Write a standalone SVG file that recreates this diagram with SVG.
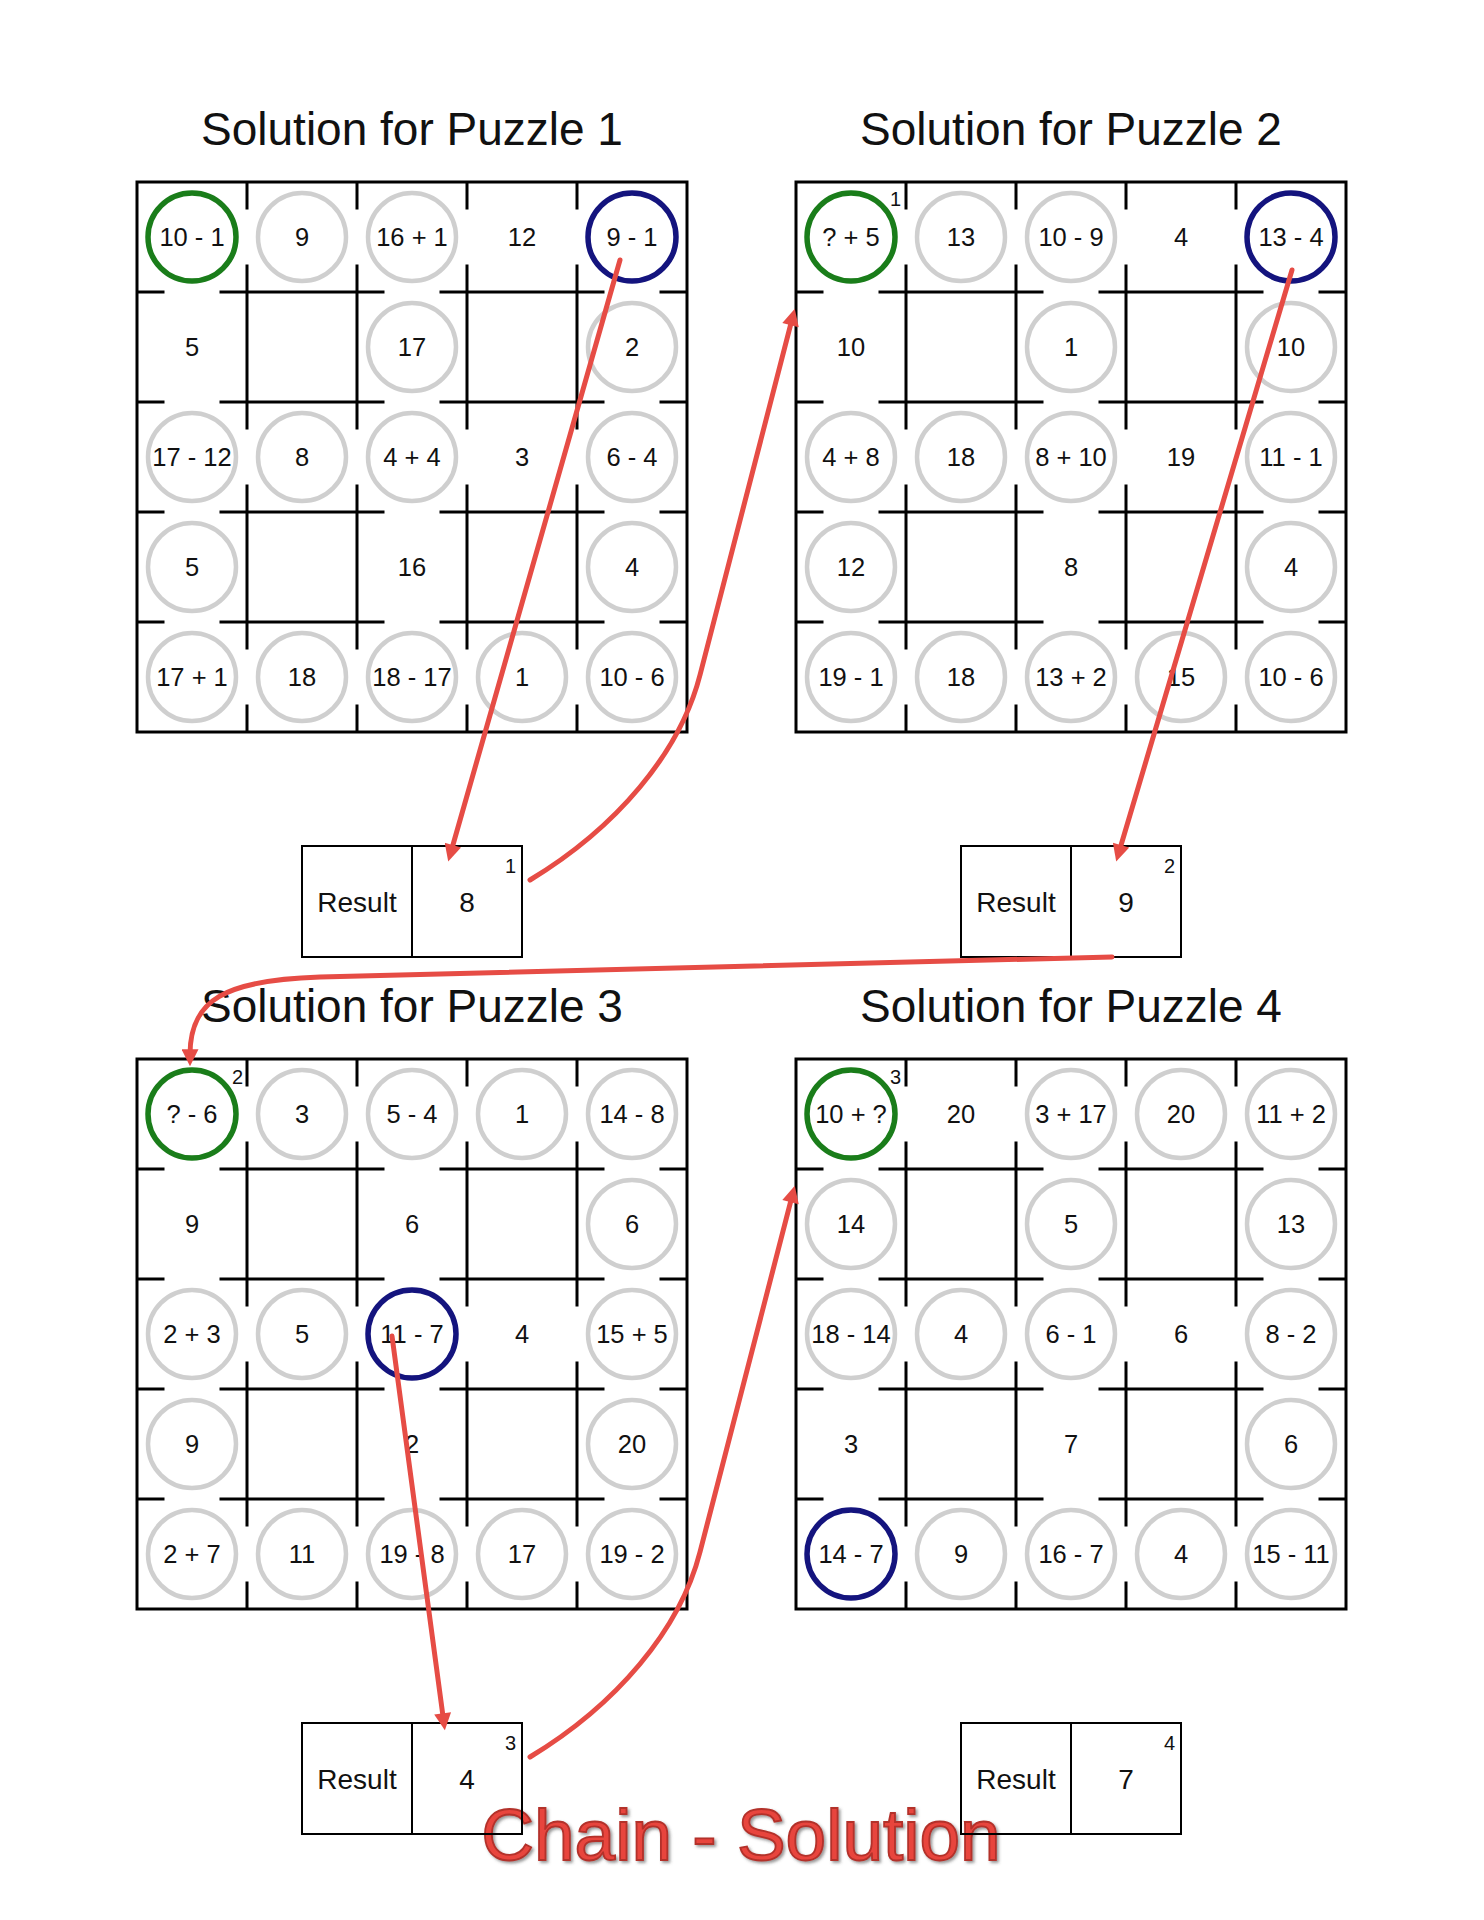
<svg xmlns="http://www.w3.org/2000/svg" xmlns:xlink="http://www.w3.org/1999/xlink" width="1484" height="1920" viewBox="0 0 1484 1920">
<style>
.title{font-family:"Liberation Sans",Arial,sans-serif;font-size:46px;fill:#111;text-anchor:middle}
.t{font-family:"Liberation Sans",Arial,sans-serif;font-size:25.5px;fill:#111;text-anchor:middle}
.rt{font-family:"Liberation Sans",Arial,sans-serif;font-size:28px;fill:#111;text-anchor:middle}
.sup{font-family:"Liberation Sans",Arial,sans-serif;font-size:20px;fill:#111;text-anchor:end}
.border{fill:none;stroke:#000;stroke-width:3}
.inner{fill:none;stroke:#000;stroke-width:3}
.c{fill:none;stroke:#cfcfcf;stroke-width:4.5}
.g{fill:none;stroke:#1a7d1a;stroke-width:5.5}
.b{fill:none;stroke:#14147e;stroke-width:5.5}
.box{fill:none;stroke:#000;stroke-width:2}
.arrow{fill:none;stroke:#e64c45;stroke-width:5;stroke-linecap:round;stroke-linejoin:round;marker-end:url(#ah)}
.chain{font-family:"Liberation Sans",Arial,sans-serif;font-size:73px;fill:#e8453e;stroke:#b3302a;stroke-width:1.8;text-anchor:middle}
</style>
<defs>
<marker id="ah" viewBox="0 0 10 10" refX="3" refY="5" markerUnits="userSpaceOnUse" markerWidth="19" markerHeight="17" orient="auto">
<path d="M0,0 L10,5 L0,10 z" fill="#e64c45"/>
</marker>
<filter id="shadow" x="-5%" y="-20%" width="110%" height="140%">
<feDropShadow dx="2" dy="2" stdDeviation="1.5" flood-color="#444" flood-opacity="0.55"/>
</filter>
<g id="grid">
<rect class="border" x="0" y="0" width="550" height="550"/>
<path class="inner" d="M110,0V27.5M110,82.5V247.5M110,302.5V467.5M110,522.5V550M220,0V27.5M220,82.5V247.5M220,302.5V467.5M220,522.5V550M330,0V27.5M330,82.5V247.5M330,302.5V467.5M330,522.5V550M440,0V27.5M440,82.5V247.5M440,302.5V467.5M440,522.5V550M0,110H27.5M82.5,110H247.5M302.5,110H467.5M522.5,110H550M0,220H27.5M82.5,220H247.5M302.5,220H467.5M522.5,220H550M0,330H27.5M82.5,330H247.5M302.5,330H467.5M522.5,330H550M0,440H27.5M82.5,440H247.5M302.5,440H467.5M522.5,440H550"/>
</g>
</defs>
<rect width="1484" height="1920" fill="#fff"/>

<g id="titles">
<text class="title" x="412" y="145">Solution for Puzzle 1</text>
<text class="title" x="1071" y="145">Solution for Puzzle 2</text>
<text class="title" x="412" y="1022">Solution for Puzzle 3</text>
<text class="title" x="1071" y="1022">Solution for Puzzle 4</text>
</g>

<g id="puzzle1" transform="translate(137,182)">
<use xlink:href="#grid"/>
<circle class="g" cx="55" cy="55" r="44"/><circle class="c" cx="165" cy="55" r="44"/><circle class="c" cx="275" cy="55" r="44"/><circle class="b" cx="495" cy="55" r="44"/>
<circle class="c" cx="275" cy="165" r="44"/><circle class="c" cx="495" cy="165" r="44"/>
<circle class="c" cx="55" cy="275" r="44"/><circle class="c" cx="165" cy="275" r="44"/><circle class="c" cx="275" cy="275" r="44"/><circle class="c" cx="495" cy="275" r="44"/>
<circle class="c" cx="55" cy="385" r="44"/><circle class="c" cx="495" cy="385" r="44"/>
<circle class="c" cx="55" cy="495" r="44"/><circle class="c" cx="165" cy="495" r="44"/><circle class="c" cx="275" cy="495" r="44"/><circle class="c" cx="385" cy="495" r="44"/><circle class="c" cx="495" cy="495" r="44"/>
<text class="t" x="55" y="64">10 - 1</text><text class="t" x="165" y="64">9</text><text class="t" x="275" y="64">16 + 1</text><text class="t" x="385" y="64">12</text><text class="t" x="495" y="64">9 - 1</text>
<text class="t" x="55" y="174">5</text><text class="t" x="275" y="174">17</text><text class="t" x="495" y="174">2</text>
<text class="t" x="55" y="284">17 - 12</text><text class="t" x="165" y="284">8</text><text class="t" x="275" y="284">4 + 4</text><text class="t" x="385" y="284">3</text><text class="t" x="495" y="284">6 - 4</text>
<text class="t" x="55" y="394">5</text><text class="t" x="275" y="394">16</text><text class="t" x="495" y="394">4</text>
<text class="t" x="55" y="504">17 + 1</text><text class="t" x="165" y="504">18</text><text class="t" x="275" y="504">18 - 17</text><text class="t" x="385" y="504">1</text><text class="t" x="495" y="504">10 - 6</text>
</g>

<g id="puzzle2" transform="translate(796,182)">
<use xlink:href="#grid"/>
<circle class="g" cx="55" cy="55" r="44"/><circle class="c" cx="165" cy="55" r="44"/><circle class="c" cx="275" cy="55" r="44"/><circle class="b" cx="495" cy="55" r="44"/>
<circle class="c" cx="275" cy="165" r="44"/><circle class="c" cx="495" cy="165" r="44"/>
<circle class="c" cx="55" cy="275" r="44"/><circle class="c" cx="165" cy="275" r="44"/><circle class="c" cx="275" cy="275" r="44"/><circle class="c" cx="495" cy="275" r="44"/>
<circle class="c" cx="55" cy="385" r="44"/><circle class="c" cx="495" cy="385" r="44"/>
<circle class="c" cx="55" cy="495" r="44"/><circle class="c" cx="165" cy="495" r="44"/><circle class="c" cx="275" cy="495" r="44"/><circle class="c" cx="385" cy="495" r="44"/><circle class="c" cx="495" cy="495" r="44"/>
<text class="sup" x="105" y="24">1</text>
<text class="t" x="55" y="64">? + 5</text><text class="t" x="165" y="64">13</text><text class="t" x="275" y="64">10 - 9</text><text class="t" x="385" y="64">4</text><text class="t" x="495" y="64">13 - 4</text>
<text class="t" x="55" y="174">10</text><text class="t" x="275" y="174">1</text><text class="t" x="495" y="174">10</text>
<text class="t" x="55" y="284">4 + 8</text><text class="t" x="165" y="284">18</text><text class="t" x="275" y="284">8 + 10</text><text class="t" x="385" y="284">19</text><text class="t" x="495" y="284">11 - 1</text>
<text class="t" x="55" y="394">12</text><text class="t" x="275" y="394">8</text><text class="t" x="495" y="394">4</text>
<text class="t" x="55" y="504">19 - 1</text><text class="t" x="165" y="504">18</text><text class="t" x="275" y="504">13 + 2</text><text class="t" x="385" y="504">15</text><text class="t" x="495" y="504">10 - 6</text>
</g>

<g id="puzzle3" transform="translate(137,1059)">
<use xlink:href="#grid"/>
<circle class="g" cx="55" cy="55" r="44"/><circle class="c" cx="165" cy="55" r="44"/><circle class="c" cx="275" cy="55" r="44"/><circle class="c" cx="385" cy="55" r="44"/><circle class="c" cx="495" cy="55" r="44"/>
<circle class="c" cx="495" cy="165" r="44"/>
<circle class="c" cx="55" cy="275" r="44"/><circle class="c" cx="165" cy="275" r="44"/><circle class="b" cx="275" cy="275" r="44"/><circle class="c" cx="495" cy="275" r="44"/>
<circle class="c" cx="55" cy="385" r="44"/><circle class="c" cx="495" cy="385" r="44"/>
<circle class="c" cx="55" cy="495" r="44"/><circle class="c" cx="165" cy="495" r="44"/><circle class="c" cx="275" cy="495" r="44"/><circle class="c" cx="385" cy="495" r="44"/><circle class="c" cx="495" cy="495" r="44"/>
<text class="sup" x="106" y="25">2</text>
<text class="t" x="55" y="64">? - 6</text><text class="t" x="165" y="64">3</text><text class="t" x="275" y="64">5 - 4</text><text class="t" x="385" y="64">1</text><text class="t" x="495" y="64">14 - 8</text>
<text class="t" x="55" y="174">9</text><text class="t" x="275" y="174">6</text><text class="t" x="495" y="174">6</text>
<text class="t" x="55" y="284">2 + 3</text><text class="t" x="165" y="284">5</text><text class="t" x="275" y="284">11 - 7</text><text class="t" x="385" y="284">4</text><text class="t" x="495" y="284">15 + 5</text>
<text class="t" x="55" y="394">9</text><text class="t" x="275" y="394">2</text><text class="t" x="495" y="394">20</text>
<text class="t" x="55" y="504">2 + 7</text><text class="t" x="165" y="504">11</text><text class="t" x="275" y="504">19 - 8</text><text class="t" x="385" y="504">17</text><text class="t" x="495" y="504">19 - 2</text>
</g>

<g id="puzzle4" transform="translate(796,1059)">
<use xlink:href="#grid"/>
<circle class="g" cx="55" cy="55" r="44"/><circle class="c" cx="275" cy="55" r="44"/><circle class="c" cx="385" cy="55" r="44"/><circle class="c" cx="495" cy="55" r="44"/>
<circle class="c" cx="55" cy="165" r="44"/><circle class="c" cx="275" cy="165" r="44"/><circle class="c" cx="495" cy="165" r="44"/>
<circle class="c" cx="55" cy="275" r="44"/><circle class="c" cx="165" cy="275" r="44"/><circle class="c" cx="275" cy="275" r="44"/><circle class="c" cx="495" cy="275" r="44"/>
<circle class="c" cx="495" cy="385" r="44"/>
<circle class="b" cx="55" cy="495" r="44"/><circle class="c" cx="165" cy="495" r="44"/><circle class="c" cx="275" cy="495" r="44"/><circle class="c" cx="385" cy="495" r="44"/><circle class="c" cx="495" cy="495" r="44"/>
<text class="sup" x="105" y="25">3</text>
<text class="t" x="55" y="64">10 + ?</text><text class="t" x="165" y="64">20</text><text class="t" x="275" y="64">3 + 17</text><text class="t" x="385" y="64">20</text><text class="t" x="495" y="64">11 + 2</text>
<text class="t" x="55" y="174">14</text><text class="t" x="275" y="174">5</text><text class="t" x="495" y="174">13</text>
<text class="t" x="55" y="284">18 - 14</text><text class="t" x="165" y="284">4</text><text class="t" x="275" y="284">6 - 1</text><text class="t" x="385" y="284">6</text><text class="t" x="495" y="284">8 - 2</text>
<text class="t" x="55" y="394">3</text><text class="t" x="275" y="394">7</text><text class="t" x="495" y="394">6</text>
<text class="t" x="55" y="504">14 - 7</text><text class="t" x="165" y="504">9</text><text class="t" x="275" y="504">16 - 7</text><text class="t" x="385" y="504">4</text><text class="t" x="495" y="504">15 - 11</text>
</g>

<g id="chain-title">
<text class="chain" x="741" y="1860" filter="url(#shadow)">Chain - Solution</text>
</g>

<g id="result1">
<rect class="box" x="302" y="846" width="220" height="111"/><line class="box" x1="412" y1="846" x2="412" y2="957"/>
<text class="rt" x="357" y="912">Result</text><text class="rt" x="467" y="912">8</text><text class="sup" x="516" y="873">1</text>
</g>
<g id="result2">
<rect class="box" x="961" y="846" width="220" height="111"/><line class="box" x1="1071" y1="846" x2="1071" y2="957"/>
<text class="rt" x="1016" y="912">Result</text><text class="rt" x="1126" y="912">9</text><text class="sup" x="1175" y="873">2</text>
</g>
<g id="result3">
<rect class="box" x="302" y="1723" width="220" height="111"/><line class="box" x1="412" y1="1723" x2="412" y2="1834"/>
<text class="rt" x="357" y="1789">Result</text><text class="rt" x="467" y="1789">4</text><text class="sup" x="516" y="1750">3</text>
</g>
<g id="result4">
<rect class="box" x="961" y="1723" width="220" height="111"/><line class="box" x1="1071" y1="1723" x2="1071" y2="1834"/>
<text class="rt" x="1016" y="1789">Result</text><text class="rt" x="1126" y="1789">7</text><text class="sup" x="1175" y="1750">4</text>
</g>

<g id="connectors">
<path class="arrow" d="M620,260 L451.5,850"/>
<path class="arrow" d="M530,880 C616,828 680,753 700,675 L791.8,320.2"/>
<path class="arrow" d="M1292,270 L1119.6,850"/>
<path class="arrow" d="M1112,957 L320,977 C225,980 190,1000 190,1054.4"/>
<path class="arrow" d="M392,1336 L443.3,1718.5"/>
<path class="arrow" d="M530,1757 C616,1705 680,1630 700,1552 L791.8,1197.2"/>
</g>
</svg>
